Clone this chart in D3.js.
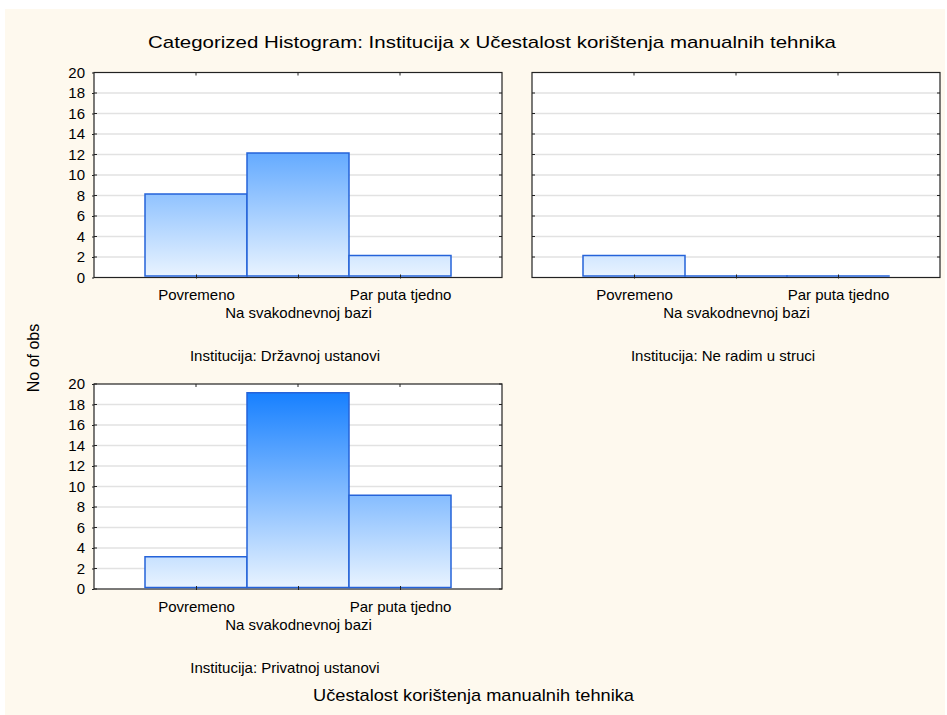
<!DOCTYPE html>
<html>
<head>
<meta charset="utf-8">
<script src="https://cdn.jsdelivr.net/npm/d3@7"></script>
<style>
  body { margin: 0; background: #ffffff; }
  text { font-family: "Liberation Sans", Arial, sans-serif; fill: #000; }
</style>
</head>
<body>
<script>
// data
const categories = ["Povremeno", "Na svakodnevnoj bazi", "Par puta tjedno"];
const panelTitles = ["Institucija: Državnoj ustanovi", "Institucija: Ne radim u struci", "Institucija: Privatnoj ustanovi"];
const drzavnoj = [8, 12, 2];
const neRadim = [2, 0, 0];
const privatnoj = [3, 19, 9];
const yTicks = [0, 2, 4, 6, 8, 10, 12, 14, 16, 18, 20];

const W = 947, H = 715;
const svg = d3.select("body").append("svg")
  .attr("width", W).attr("height", H)
  .attr("xmlns", "http://www.w3.org/2000/svg");

// beige page
svg.append("rect").attr("x", 5).attr("y", 9).attr("width", 940).attr("height", H - 9)
  .attr("fill", "#fef9ee");

const panelW = 408, panelH = 205;
const panels = [
  {x: 94, y: 72.5, values: drzavnoj, title: panelTitles[0], yLabels: true},
  {x: 532, y: 72.5, values: neRadim, title: panelTitles[1], yLabels: false},
  {x: 94, y: 384, values: privatnoj, title: panelTitles[2], yLabels: true}
];

const x = d3.scaleLinear().domain([0, 4]).range([0, panelW]);
const y = d3.scaleLinear().domain([0, 20]).range([panelH, 0]);

// one gradient spanning the whole value range (in each panel's local space)
const grad = svg.append("defs").append("linearGradient")
  .attr("id", "barGrad")
  .attr("gradientUnits", "userSpaceOnUse")
  .attr("x1", 0).attr("y1", y(20)).attr("x2", 0).attr("y2", y(0));
grad.append("stop").attr("offset", "0%").attr("stop-color", "#0e7bff");
grad.append("stop").attr("offset", "100%").attr("stop-color", "#eaf4ff");

panels.forEach(function(p) {
  const g = svg.append("g").attr("transform", "translate(" + p.x + "," + p.y + ")");

  g.append("rect").attr("width", panelW).attr("height", panelH).attr("fill", "#ffffff");

  // gridlines
  g.selectAll(".grid").data(yTicks.slice(1, -1)).enter().append("line")
    .attr("x1", 0).attr("x2", panelW)
    .attr("y1", d => y(d)).attr("y2", d => y(d))
    .attr("stroke", "#e2e2e2").attr("stroke-width", 1.3);

  // frame
  g.append("rect").attr("width", panelW).attr("height", panelH)
    .attr("fill", "none").attr("stroke", "#222").attr("stroke-width", 1.2);

  // bars (drawn over the frame; zero bars keep a tiny height so the outline shows)
  g.selectAll(".bar").data(p.values).enter().append("rect")
    .attr("x", (d, i) => x(i + 0.5))
    .attr("y", d => y(d) - 1.5)
    .attr("width", (d, i) => x(i + 1.5) - x(i + 0.5))
    .attr("height", d => Math.max(y(0) - y(d), 0.01))
    .attr("fill", "url(#barGrad)")
    .attr("stroke", "#2563d9").attr("stroke-width", 1.5);

  // inner ticks on all sides
  g.selectAll(".tl").data(yTicks).enter().append("line")
    .attr("x1", 0).attr("x2", 3).attr("y1", d => y(d)).attr("y2", d => y(d)).attr("stroke", "#222");
  g.selectAll(".tr").data(yTicks).enter().append("line")
    .attr("x1", panelW - 3).attr("x2", panelW).attr("y1", d => y(d)).attr("y2", d => y(d)).attr("stroke", "#222");
  g.selectAll(".tt").data([1, 2, 3]).enter().append("line")
    .attr("x1", d => x(d)).attr("x2", d => x(d)).attr("y1", 0).attr("y2", 3).attr("stroke", "#222");

  // y axis labels
  if (p.yLabels) {
    const ya = g.append("g")
      .call(d3.axisLeft(y).tickValues(yTicks).tickSize(2).tickPadding(7));
    ya.select(".domain").remove();
    ya.selectAll("line").attr("stroke", "#222");
    ya.selectAll("text").style("font-size", "15px").attr("fill", "#000")
      .style("font-family", "'Liberation Sans', Arial, sans-serif");
  }

  // x axis with staggered category labels
  const xa = g.append("g").attr("transform", "translate(0," + panelH + ")")
    .call(d3.axisBottom(x).tickValues([1, 2, 3]).tickFormat(d => categories[d - 1]).tickSize(3));
  xa.select(".domain").remove();
  xa.selectAll("line").attr("stroke", "#222").attr("y1", -3).attr("y2", 1);
  xa.selectAll("text")
    .style("font-size", "15px").attr("fill", "#000")
    .style("font-family", "'Liberation Sans', Arial, sans-serif")
    .attr("y", 0)
    .attr("dy", (d, i) => i % 2 === 0 ? 22.5 : 40.5);

  // panel caption
  g.append("text")
    .attr("x", panelW / 2 - 13).attr("y", panelH + 83.5)
    .attr("text-anchor", "middle").style("font-size", "15px")
    .text(p.title);
});

// titles
svg.append("text").attr("x", 492).attr("y", 48).attr("text-anchor", "middle")
  .style("font-size", "17px")
  .attr("textLength", 688).attr("lengthAdjust", "spacingAndGlyphs")
  .text("Categorized Histogram: Institucija x Učestalost korištenja manualnih tehnika");

svg.append("text").attr("x", 473.5).attr("y", 701).attr("text-anchor", "middle")
  .style("font-size", "17px")
  .attr("textLength", 321).attr("lengthAdjust", "spacingAndGlyphs")
  .text("Učestalost korištenja manualnih tehnika");

svg.append("text").attr("transform", "translate(39,358) rotate(-90)")
  .attr("text-anchor", "middle").style("font-size", "16px")
  .text("No of obs");
</script>
</body>
</html>
